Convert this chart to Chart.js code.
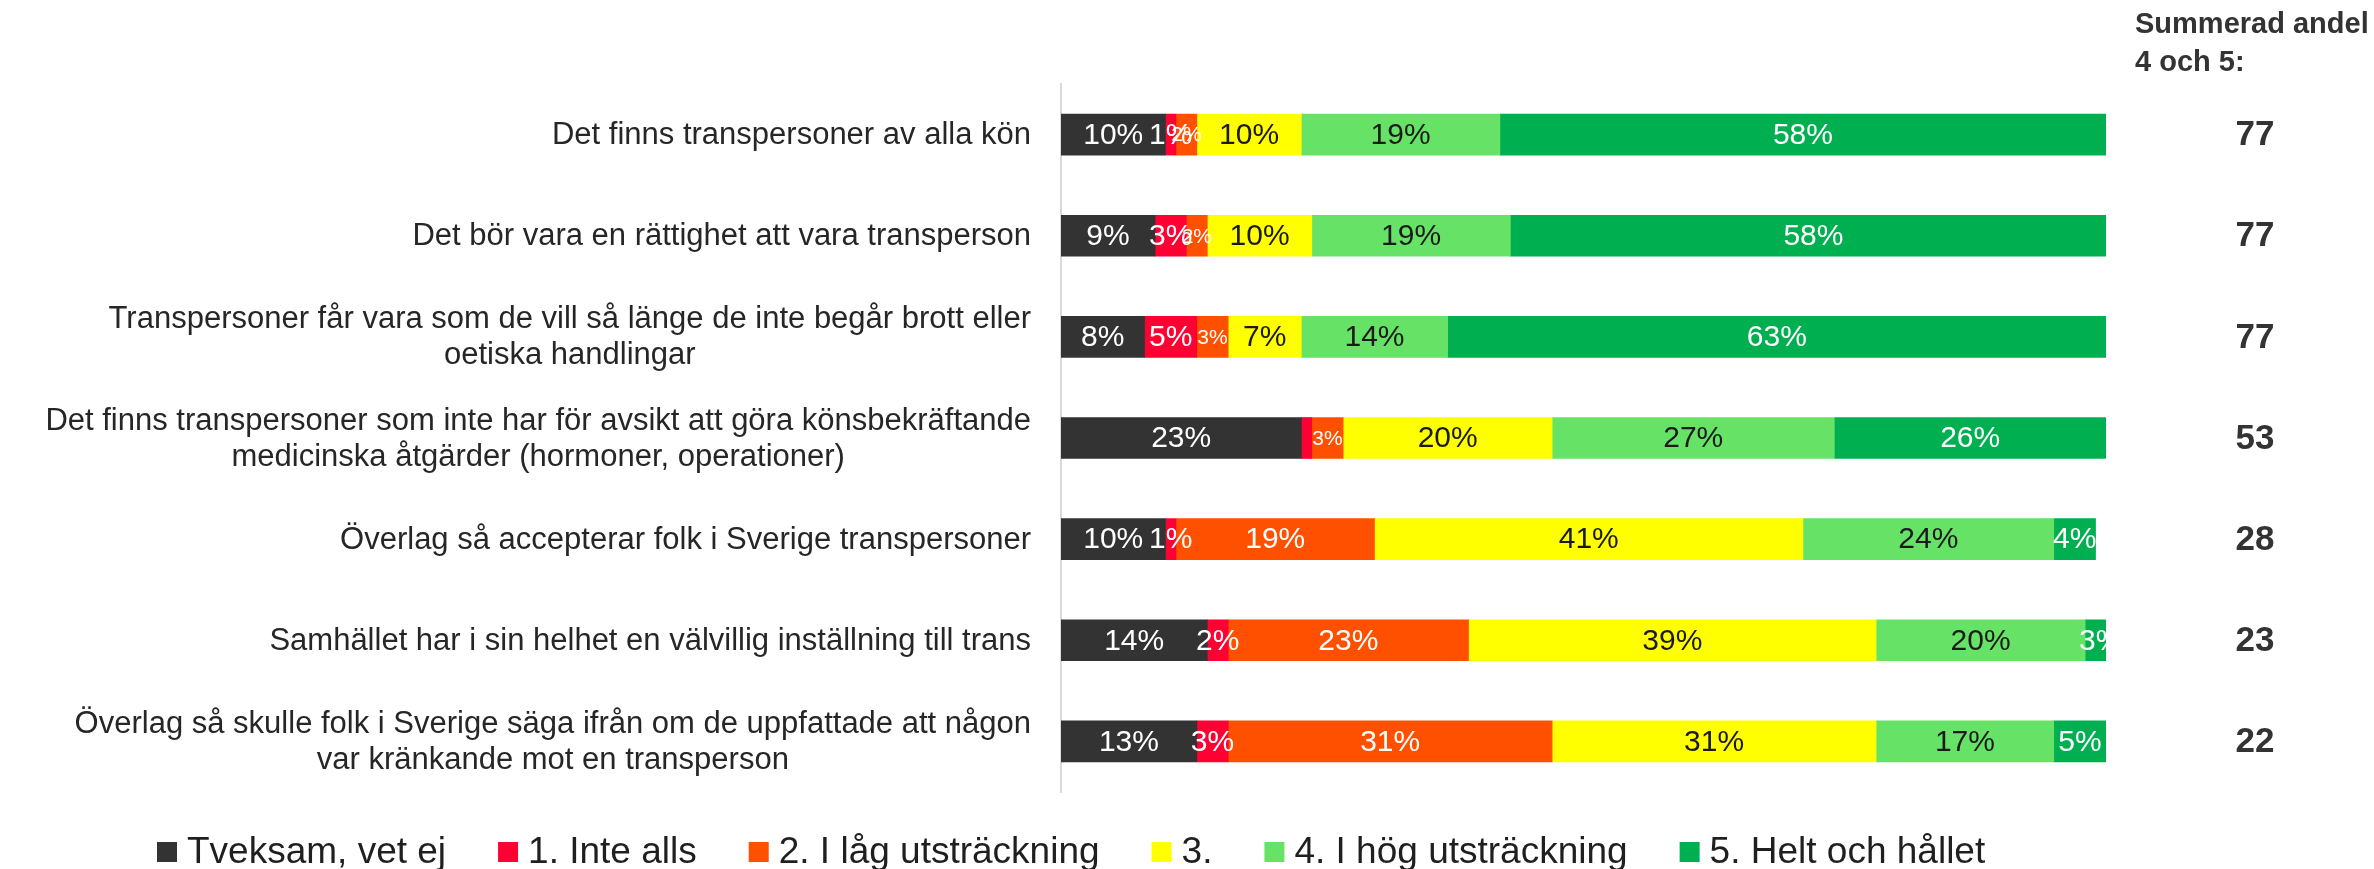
<!DOCTYPE html>
<html>
<head>
<meta charset="utf-8">
<script src="https://cdn.jsdelivr.net/npm/chart.js@4.4.0/dist/chart.umd.min.js"></script>
<style>
  body { margin: 0; background: #fff; }
  #wrap { width: 2374px; height: 869px; position: relative; }
</style>
</head>
<body>
<div id="wrap"><canvas id="chart"></canvas></div>
<script>
const categories = [
    "Det finns transpersoner av alla kön",
    "Det bör vara en rättighet att vara transperson",
    ["Transpersoner får vara som de vill så länge de inte begår brott eller", "oetiska handlingar"],
    ["Det finns transpersoner som inte har för avsikt att göra könsbekräftande", "medicinska åtgärder (hormoner, operationer)"],
    "Överlag så accepterar folk i Sverige transpersoner",
    "Samhället har i sin helhet en välvillig inställning till trans",
    ["Överlag så skulle folk i Sverige säga ifrån om de uppfattade att någon", "var kränkande mot en transperson"]
];

const seriesNames = ["Tveksam, vet ej", "1. Inte alls", "2. I låg utsträckning", "3.", "4. I hög utsträckning", "5. Helt och hållet"];
const tveksam   = [10, 9, 8, 23, 10, 14, 13];
const inteAlls  = [1, 3, 5, 1, 1, 2, 3];
const lag       = [2, 2, 3, 3, 19, 23, 31];
const mitten    = [10, 10, 7, 20, 41, 39, 31];
const hog       = [19, 19, 14, 27, 24, 20, 17];
const heltHallet = [58, 58, 63, 26, 4, 3, 5];

const colors = ["#333333", "#FF0033", "#FF5000", "#FFFF00", "#66E366", "#00B050"];
const labelColors = ["#ffffff", "#ffffff", "#ffffff", "#1a1a1a", "#1a1a1a", "#ffffff"];
const hiddenLabels = [[1, 3]];
const sumHeader = ["Summerad andel", "4 och 5:"];

const FONT = "'Liberation Sans', Arial, sans-serif";

// etiketter inne i staplarna
const barLabels = {
    id: 'barLabels',
    afterDatasetsDraw(chart) {
        const ctx = chart.ctx, area = chart.chartArea;
        ctx.save();
        ctx.beginPath();
        ctx.rect(area.left, area.top, area.right - area.left + 3, area.bottom - area.top);
        ctx.clip();
        ctx.textAlign = 'center';
        ctx.textBaseline = 'middle';
        chart.data.datasets.forEach((ds, di) => {
            chart.getDatasetMeta(di).data.forEach((bar, i) => {
                if (hiddenLabels.some(h => h[0] === di && h[1] === i)) return;
                const v = ds.data[i];
                const small = di === 2 && v <= 3;
                ctx.font = (small ? 21 : 30) + 'px ' + FONT;
                ctx.fillStyle = labelColors[di];
                ctx.fillText(v + '%', (bar.x + bar.base) / 2, bar.y + 1);
            });
        });
        ctx.restore();
    }
};

// kategoritexter till vänster, centrerade rader
const categoryText = {
    id: 'categoryText',
    afterDraw(chart) {
        const ctx = chart.ctx, y = chart.scales.y, right = chart.chartArea.left - 30;
        ctx.save();
        ctx.font = '31px ' + FONT;
        ctx.fillStyle = '#262626';
        ctx.textAlign = 'center';
        ctx.textBaseline = 'middle';
        categories.forEach((c, i) => {
            const lines = Array.isArray(c) ? c : [c];
            const w = Math.max(...lines.map(l => ctx.measureText(l).width));
            const cy = y.getPixelForValue(i);
            lines.forEach((l, k) => {
                ctx.fillText(l, right - w / 2, cy + (k - (lines.length - 1) / 2) * 36 + 1);
            });
        });
        ctx.restore();
    }
};

// summerad andel 4 och 5 till höger
const sumColumn = {
    id: 'sumColumn',
    afterDraw(chart) {
        const ctx = chart.ctx, y = chart.scales.y;
        ctx.save();
        ctx.fillStyle = '#333333';
        ctx.font = 'bold 29px ' + FONT;
        ctx.textAlign = 'left';
        ctx.textBaseline = 'alphabetic';
        ctx.fillText(sumHeader[0], 2135, 33);
        ctx.fillText(sumHeader[1], 2135, 71);
        ctx.font = 'bold 35px ' + FONT;
        ctx.textAlign = 'center';
        ctx.textBaseline = 'middle';
        categories.forEach((c, i) => {
            ctx.fillText(String(hog[i] + heltHallet[i]), 2255, y.getPixelForValue(i) + 1);
        });
        ctx.restore();
    }
};

// förklaring längst ner
const bottomLegend = {
    id: 'bottomLegend',
    afterDraw(chart) {
        const ctx = chart.ctx;
        let x = 157;
        const cy = 852;
        ctx.save();
        ctx.font = '37px ' + FONT;
        ctx.textBaseline = 'middle';
        ctx.textAlign = 'left';
        chart.data.datasets.forEach((ds) => {
            ctx.fillStyle = ds.backgroundColor;
            ctx.fillRect(x, cy - 10, 20, 20);
            x += 30;
            ctx.fillStyle = '#1f1f1f';
            ctx.fillText(ds.label, x, cy + 1);
            x += ctx.measureText(ds.label).width + 52;
        });
        ctx.restore();
    }
};

const seriesData = [tveksam, inteAlls, lag, mitten, hog, heltHallet];

new Chart(document.getElementById('chart'), {
    type: 'bar',
    data: {
        labels: categories,
        datasets: seriesData.map((d, i) => ({
            label: seriesNames[i],
            data: d,
            backgroundColor: colors[i],
            borderWidth: 0,
            barThickness: 41
        }))
    },
    options: {
        indexAxis: 'y',
        responsive: true,
        maintainAspectRatio: false,
        animation: false,
        layout: { padding: { left: 36, right: 268, top: 84, bottom: 77 } },
        scales: {
            x: { stacked: true, min: 0, max: 100, display: false },
            y: {
                stacked: true,
                ticks: { display: false },
                grid: { display: false },
                border: { display: true, color: '#d9d9d9', width: 2 },
                afterFit(scale) { scale.width = 1025; }
            }
        },
        plugins: {
            tooltip: { enabled: false },
            legend: { display: false }
        }
    },
    plugins: [barLabels, categoryText, sumColumn, bottomLegend]
});
</script>
</body>
</html>
